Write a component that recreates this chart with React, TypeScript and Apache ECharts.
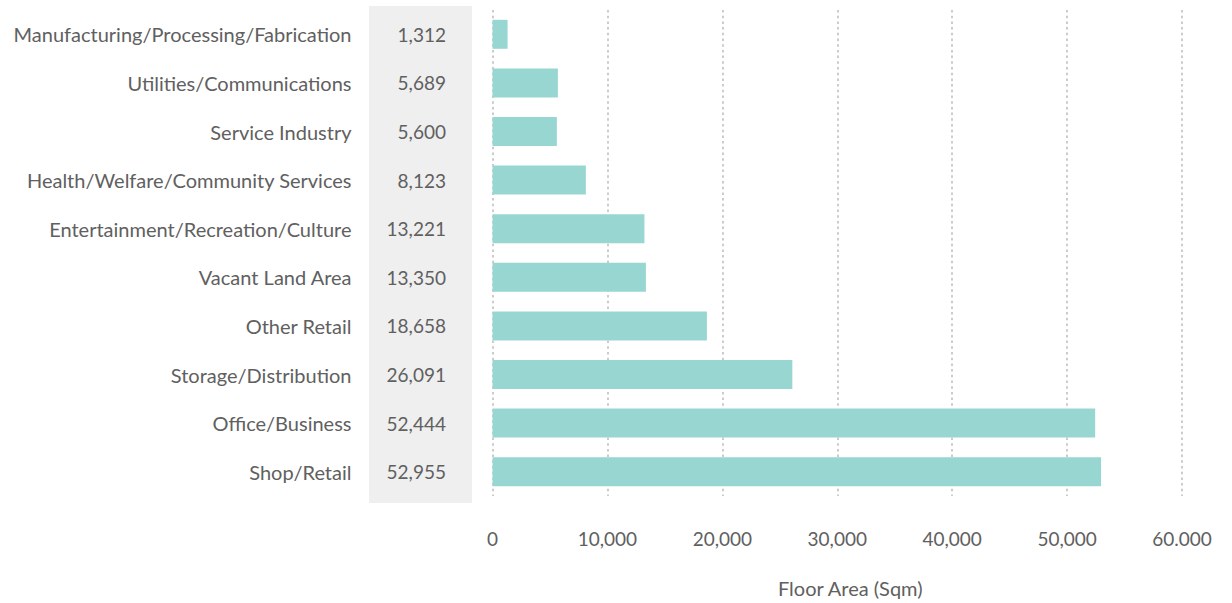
import React, { useEffect, useRef } from "react";
import * as echarts from "echarts";

const categories = [
  "Manufacturing/Processing/Fabrication",
  "Utilities/Communications",
  "Service Industry",
  "Health/Welfare/Community Services",
  "Entertainment/Recreation/Culture",
  "Vacant Land Area",
  "Other Retail",
  "Storage/Distribution",
  "Office/Business",
  "Shop/Retail",
];
const floorArea = [1312, 5689, 5600, 8123, 13221, 13350, 18658, 26091, 52444, 52955];
const tickLabels: Record<number, string> = {
  0: "0",
  10000: "10,000",
  20000: "20,000",
  30000: "30,000",
  40000: "40,000",
  50000: "50,000",
  60000: "60.000",
};
const axisTitle = "Floor Area (Sqm)";

const FONT = "Lato";
const TEXT = "#606060";

export default function App() {
  const ref = useRef<HTMLDivElement>(null);
  useEffect(() => {
    document.body.style.margin = "0";
    if (!ref.current) return;
    const chart = echarts.init(ref.current, null, { renderer: "svg" });
    chart.setOption({
      animation: false,
      textStyle: { fontFamily: FONT },
      grid: { left: 492.5, right: 50, top: 10, bottom: 106, containLabel: false },
      graphic: [
        {
          type: "rect",
          z: -10,
          shape: { x: 369, y: 6, width: 103, height: 497 },
          style: { fill: "#efefef" },
        },
      ],
      xAxis: {
        type: "value",
        min: 0,
        max: 60000,
        interval: 10000,
        axisLine: { show: false },
        axisTick: { show: false },
        axisLabel: {
          margin: 33,
          color: TEXT,
          fontFamily: FONT,
          fontSize: 19,
          formatter: (v: number) => tickLabels[v] ?? String(v),
        },
        splitLine: {
          show: true,
          lineStyle: { color: "#cccccc", width: 2, type: [2.5, 3.2] },
        },
        name: axisTitle,
        nameLocation: "middle",
        nameGap: 82,
        nameTextStyle: { color: TEXT, fontFamily: FONT, fontSize: 20, padding: [0, 0, 0, 26] },
      },
      yAxis: [
        {
          type: "category",
          data: categories,
          inverse: true,
          axisLine: { show: false },
          axisTick: { show: false },
          splitLine: { show: false },
          axisLabel: { margin: 141, color: TEXT, fontFamily: FONT, fontSize: 20 },
        },
        {
          type: "category",
          data: floorArea.map((v) => v.toLocaleString("en-US")),
          inverse: true,
          position: "left",
          offset: 46.5,
          axisLine: { show: false },
          axisTick: { show: false },
          splitLine: { show: false },
          axisLabel: { margin: 0, color: TEXT, fontFamily: FONT, fontSize: 19 },
        },
      ],
      series: [
        {
          type: "bar",
          data: floorArea,
          barWidth: 29,
          itemStyle: { color: "#98d6d2" },
          z: 2,
        },
      ],
    });
    return () => chart.dispose();
  }, []);
  return <div ref={ref} style={{ width: 1232, height: 603 }} />;
}
